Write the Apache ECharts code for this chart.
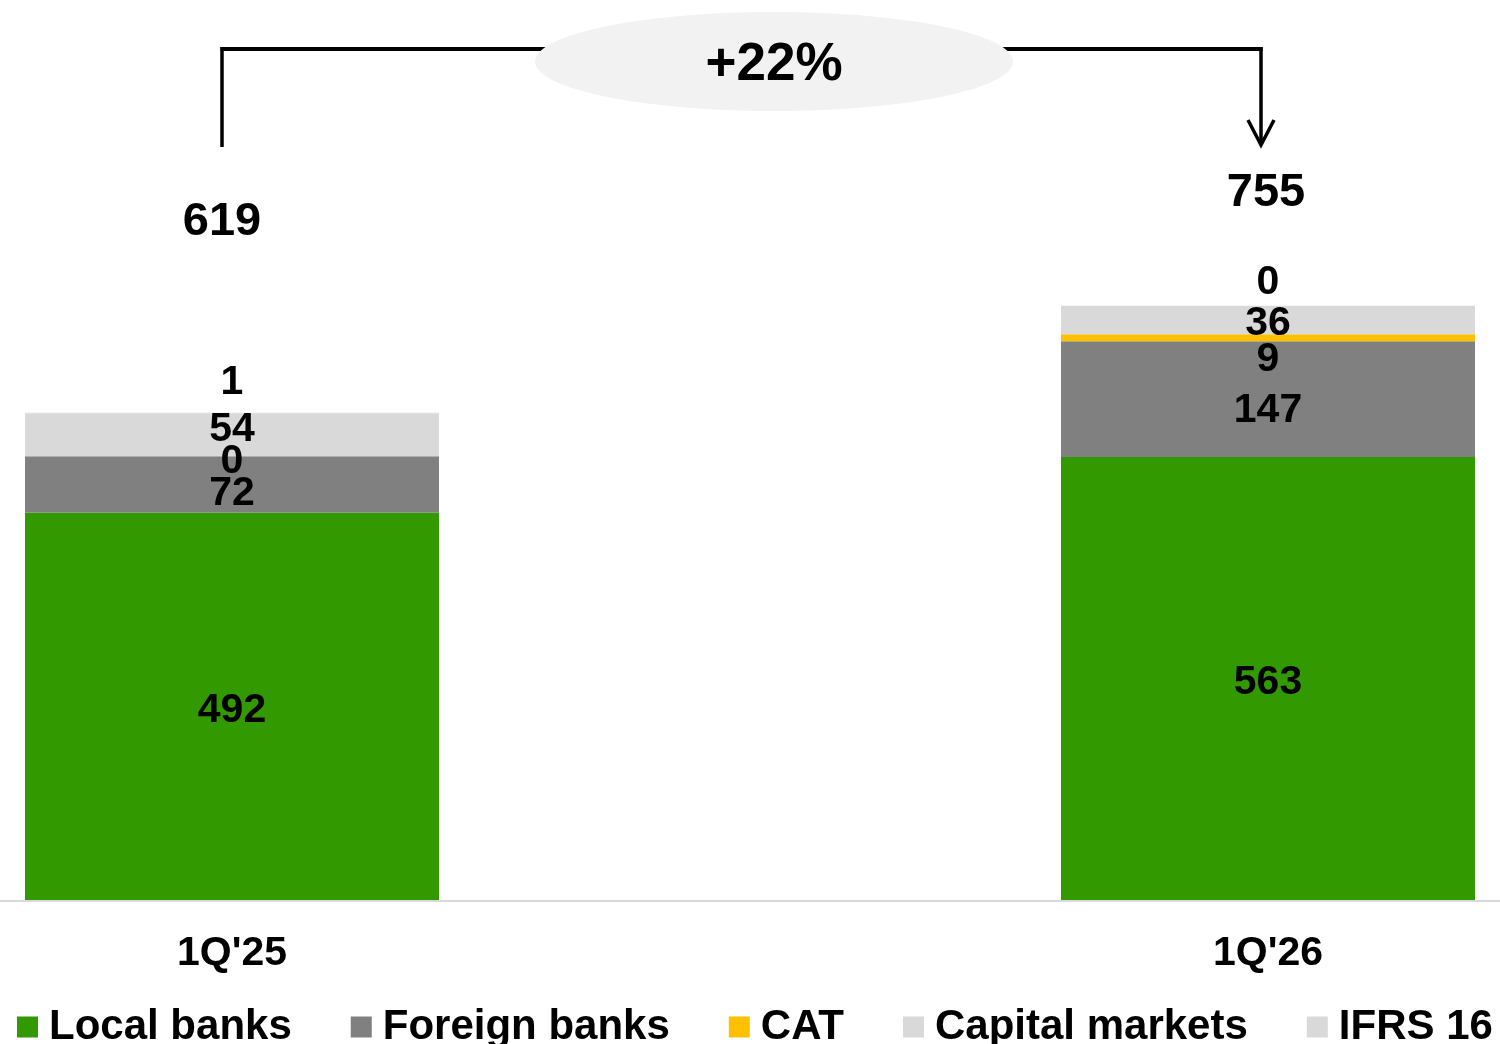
<!DOCTYPE html>
<html>
<head>
<meta charset="utf-8">
<script src="https://cdn.jsdelivr.net/npm/echarts@6/dist/echarts.min.js"></script>
<style>
html,body{margin:0;padding:0;background:#fff;}
#chart{width:1500px;height:1044px;}
</style>
</head>
<body>
<div id="chart"></div>
<script>
// ---- data ----
const categories = ["1Q'25", "1Q'26"];
const seriesNames = ['Local banks', 'Foreign banks', 'CAT', 'Capital markets', 'IFRS 16'];
const localBanks = [492, 563];
const foreignBanks = [72, 147];
const cat = [0, 9];
const capitalMarkets = [54, 36];
const ifrs16 = [1, 0];
const totals = [619, 755];
const growthText = '+22%';

// ---- styling (kept apart from data) ----
const FONT = "'Liberation Sans', Arial, sans-serif";
const colors = ['#339900', '#808080', '#FFC000', '#D9D9D9', '#D9D9D9'];
const labelShift = [
  [[0, 4], [0, 4]],
  [[0, 9], [0, 12]],
  [[0, 6], [0, 22]],
  [[0, -5], [0, 4]],
  [[0, -31], [0, -23]]
];
const totalShift = [[-10, -191], [-2, -113]];
const values = [localBanks, foreignBanks, cat, capitalMarkets, ifrs16];

const barSeries = seriesNames.map((name, s) => ({
  name: name,
  type: 'bar',
  stack: 'total',
  barWidth: 414,
  itemStyle: { color: colors[s] },
  label: {
    show: true,
    position: 'inside',
    color: '#000',
    fontFamily: FONT,
    fontWeight: 'bold',
    fontSize: 41
  },
  emphasis: { disabled: true },
  data: values[s].map((v, i) => ({ value: v, label: { offset: labelShift[s][i] } }))
}));

const totalSeries = {
  name: 'Total',
  type: 'scatter',
  symbolSize: 0,
  itemStyle: { color: '#000' },
  label: {
    show: true,
    position: 'inside',
    color: '#000',
    opacity: 1,
    fontFamily: FONT,
    fontWeight: 'bold',
    fontSize: 47
  },
  emphasis: { disabled: true },
  z: 10,
  data: totals.map((v, i) => ({ value: v, label: { offset: totalShift[i] } }))
};

const chart = echarts.init(document.getElementById('chart'), null, { renderer: 'canvas' });
chart.setOption({
  animation: false,
  backgroundColor: '#fff',
  grid: { left: 232, right: 232, top: 113, bottom: 144, containLabel: false },
  xAxis: {
    type: 'category',
    data: categories,
    boundaryGap: false,
    axisLine: { show: false },
    axisTick: { show: false },
    axisLabel: {
      color: '#000',
      fontFamily: FONT,
      fontWeight: 'bold',
      fontSize: 41,
      margin: 33
    }
  },
  yAxis: { type: 'value', min: 0, max: 1000, show: false },
  legend: {
    data: seriesNames,
    left: 12,
    top: 1001,
    icon: 'rect',
    itemWidth: 21,
    itemHeight: 21,
    itemGap: 59,
    selectedMode: false,
    textStyle: {
      color: '#000',
      fontFamily: FONT,
      fontWeight: 'bold',
      fontSize: 42,
      padding: [0, 0, 0, 6]
    }
  },
  series: barSeries.concat([totalSeries])
});

const baseY = chart.convertToPixel({ gridIndex: 0 }, [0, 0])[1];
chart.setOption({
  graphic: [
    { type: 'line', z: 0, shape: { x1: 0, y1: baseY + 1, x2: 1500, y2: baseY + 1 }, style: { stroke: '#D9D9D9', lineWidth: 2 } },
    { type: 'line', shape: { x1: 222, y1: 147, x2: 222, y2: 47 }, style: { stroke: '#000', lineWidth: 3.5 } },
    { type: 'line', shape: { x1: 220.5, y1: 49, x2: 1262.5, y2: 49 }, style: { stroke: '#000', lineWidth: 4 } },
    { type: 'line', shape: { x1: 1261, y1: 47, x2: 1261, y2: 145 }, style: { stroke: '#000', lineWidth: 3.5 } },
    { type: 'polyline', shape: { points: [[1248, 120], [1261, 145], [1274, 120]] }, style: { stroke: '#000', lineWidth: 3.5, fill: null } },
    { type: 'ellipse', shape: { cx: 774, cy: 61.5, rx: 239, ry: 49.5 }, style: { fill: '#F2F2F2' }, z: 5 },
    { type: 'text', z: 6, x: 774, y: 65, style: { text: growthText, fill: '#000', font: "bold 53px 'Liberation Sans', Arial, sans-serif", align: 'center', verticalAlign: 'middle' } }
  ]
});
</script>
</body>
</html>
